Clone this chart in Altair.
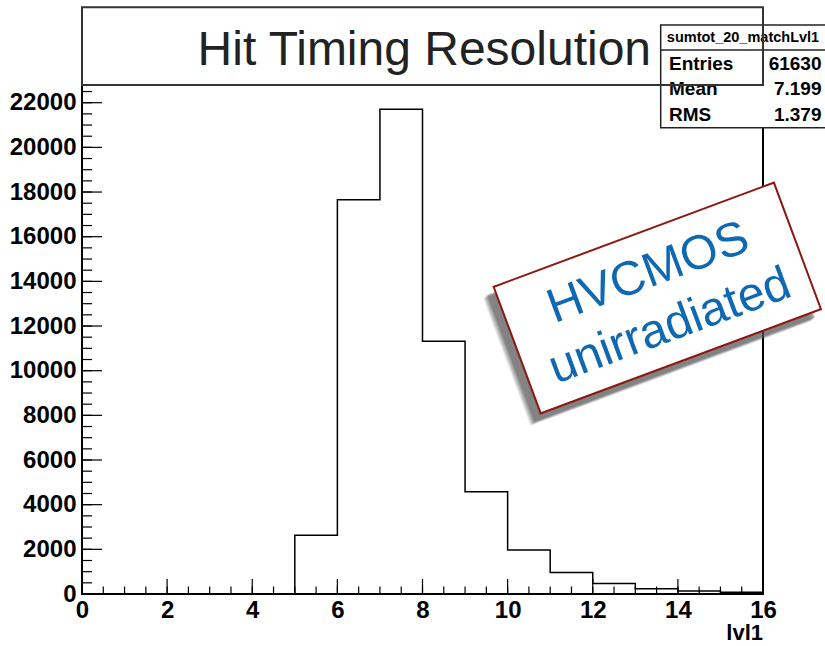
import altair as alt
import pandas as pd

# ---------------- data ----------------
bin_low = [0, 1, 2, 3, 4, 5, 6, 7, 8, 9, 10, 11, 12, 13, 14, 15]
bin_high_last = 16
counts = [0, 0, 0, 0, 0, 2627, 17650, 21705, 11320, 4583, 1969, 960, 474, 237, 133, 74]

x_major = [0, 2, 4, 6, 8, 10, 12, 14, 16]
x_minor = [i * 0.5 for i in range(33)]
y_major = [0, 2000, 4000, 6000, 8000, 10000, 12000, 14000, 16000, 18000, 20000, 22000]
y_minor = [i * 500 for i in range(46)]

title_text = "Hit Timing Resolution"
stats_name = "sumtot_20_matchLvl1"
stats_labels = ["Entries", "Mean", "RMS"]
stats_values = ["61630", "7.199", "1.379"]
xlabel = "lvl1"
note_lines = ["HVCMOS", "unirradiated"]

# ---------------- layout ----------------
W, H = 681, 509
Y_MAX = 22793
FONT = "Liberation Sans"

xs = alt.Scale(domain=[0, 16], nice=False, zero=False)
ys = alt.Scale(domain=[0, Y_MAX], nice=False)

hist_df = pd.DataFrame({"x": bin_low + [bin_high_last], "y": counts + [counts[-1]]})
one = pd.DataFrame({"k": [0]})

base_x_axis = alt.Axis(values=x_major, labelFont=FONT, labelFontWeight="bold", labelFontSize=24,
                       labelColor="black", labelPadding=4, ticks=False, domain=False, grid=False,
                       labelFlush=False, labelOverlap=False, title=None, format="d")
base_y_axis = alt.Axis(values=y_major, labelFont=FONT, labelFontWeight="bold", labelFontSize=24,
                       labelColor="black", labelPadding=6, ticks=False, domain=False, grid=False,
                       labelFlush=False, labelOverlap=False, title=None, format="d")

hist = alt.Chart(hist_df).mark_line(interpolate="step-after", color="black", strokeWidth=1.5).encode(
    x=alt.X("x:Q", scale=xs, axis=base_x_axis),
    y=alt.Y("y:Q", scale=ys, axis=base_y_axis),
)

xmaj = alt.Chart(pd.DataFrame({"p": x_major})).mark_rule(color="black", strokeWidth=1.2).encode(
    x=alt.X("p:Q", scale=xs), y=alt.value(H), y2=alt.value(H - 15))
xmin = alt.Chart(pd.DataFrame({"p": x_minor})).mark_rule(color="black", strokeWidth=1.2).encode(
    x=alt.X("p:Q", scale=xs), y=alt.value(H), y2=alt.value(H - 7.5))
ymaj = alt.Chart(pd.DataFrame({"p": y_major})).mark_rule(color="black", strokeWidth=1.2).encode(
    y=alt.Y("p:Q", scale=ys), x=alt.value(0), x2=alt.value(20))
ymin = alt.Chart(pd.DataFrame({"p": y_minor})).mark_rule(color="black", strokeWidth=1.2).encode(
    y=alt.Y("p:Q", scale=ys), x=alt.value(0), x2=alt.value(10))

frame = alt.Chart(one).mark_rect(fill=None, stroke="black", strokeWidth=2).encode(
    x=alt.value(0), x2=alt.value(W), y=alt.value(0), y2=alt.value(H))

# stats box
SX0, SX1, SY0, SY1, SDIV = 578.7, 745, -60, 42.7, -35
stats_box = alt.Chart(one).mark_rect(fill="white", stroke="#222", strokeWidth=1.5).encode(
    x=alt.value(SX0), x2=alt.value(SX1), y=alt.value(SY0), y2=alt.value(SY1))
stats_div = alt.Chart(one).mark_rule(color="#222", strokeWidth=1.5).encode(
    x=alt.value(SX0), x2=alt.value(SX1), y=alt.value(SDIV))
stats_head = alt.Chart(one).mark_text(text=stats_name, font=FONT, fontWeight="bold", fontSize=14.5,
                                      color="black", align="center", baseline="middle").encode(
    x=alt.value(661), y=alt.value(-47.5))
row_y = [-21, 4, 30]
stats_rows = []
for i, (lab, val) in enumerate(zip(stats_labels, stats_values)):
    stats_rows.append(alt.Chart(one).mark_text(text=lab, font=FONT, fontWeight="bold", fontSize=19,
                                               color="black", align="left", baseline="middle").encode(
        x=alt.value(587), y=alt.value(row_y[i])))
    stats_rows.append(alt.Chart(one).mark_text(text=val, font=FONT, fontWeight="bold", fontSize=19,
                                               color="black", align="right", baseline="middle").encode(
        x=alt.value(739.5), y=alt.value(row_y[i])))

# title box (border drawn over stats box)
title_box = alt.Chart(one).mark_rect(fill=None, stroke="#333", strokeWidth=2).encode(
    x=alt.value(0), x2=alt.value(W), y=alt.value(-77.7), y2=alt.value(0))
title = alt.Chart(one).mark_text(text=title_text, font=FONT, fontSize=48, color="#222",
                                 align="center", baseline="alphabetic").encode(
    x=alt.value(342.3), y=alt.value(-20))

xtitle = alt.Chart(one).mark_text(text=xlabel, font=FONT, fontWeight="bold", fontSize=22,
                                  color="black", align="right", baseline="alphabetic").encode(
    x=alt.value(W), y=alt.value(555))

# rotated note box
ANG = 339.6
CX, CY = 575.3, 213
rect_path = "M-1,-0.4515L1,-0.4515L1,0.4515L-1,0.4515Z"
BOX_SIZE = 299 ** 2
shadows = []
for dx, dy, op in [(-10, 12, 0.15), (-9, 11, 0.18), (-8, 10, 0.22), (-7, 9, 0.28), (-6, 8, 0.3)]:
    shadows.append(alt.Chart(one).mark_point(shape=rect_path, filled=True, color="#555", opacity=op,
                                             angle=ANG, size=BOX_SIZE + 400).encode(
        x=alt.value(CX + dx), y=alt.value(CY + dy)))
note_box = alt.Chart(one).mark_point(shape=rect_path, filled=False, fill="white", fillOpacity=1,
                                     stroke="#8b1a10", strokeWidth=2, opacity=1,
                                     angle=ANG, size=BOX_SIZE).encode(
    x=alt.value(CX), y=alt.value(CY))
note_pos = [(566.3, 188.3), (588.0, 241.7)]
notes = []
for (px, py), txt in zip(note_pos, note_lines):
    notes.append(alt.Chart(one).mark_text(text=txt, font=FONT, fontSize=48, color="#0f68b2",
                                          align="center", baseline="middle", angle=ANG).encode(
        x=alt.value(px), y=alt.value(py)))

chart = alt.layer(
    hist, xmin, xmaj, ymin, ymaj, frame,
    stats_box, stats_div, stats_head, *stats_rows,
    title_box, title, xtitle,
    *shadows, note_box, *notes,
).properties(
    width=W, height=H,
    padding={"left": 82, "top": 85, "right": 825 - 82 - W, "bottom": 646 - 85 - H},
    autosize=alt.AutoSizeParams(type="none"),
    background="white",
).configure_view(stroke=None)

chart.save("out.html", embed_options={"renderer": "svg", "actions": False})
